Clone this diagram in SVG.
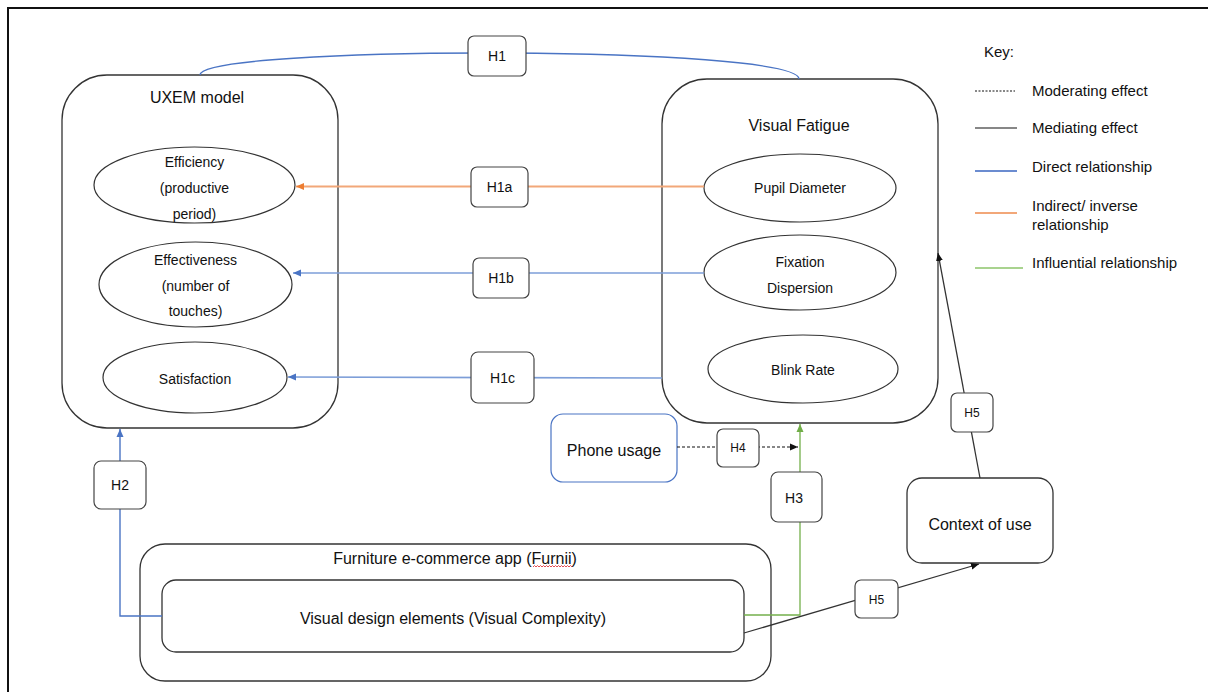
<svg xmlns="http://www.w3.org/2000/svg" width="1208" height="692" viewBox="0 0 1208 692">
<style>
text{font-family:"Liberation Sans",Arial,sans-serif;fill:#111}
.c{text-anchor:middle}
.t16{font-size:16px}
.t15{font-size:15px}
.t14{font-size:14px}
.t12{font-size:12px}
.box{fill:#fff;stroke:#333;stroke-width:1.3}
.ell{fill:#fff;stroke:#333;stroke-width:1.2}
.lbl{fill:#fff;stroke:#444;stroke-width:1.2}
.blue{fill:none;stroke:#4a74c4;stroke-width:1.4}
.lblue{fill:none;stroke:#7d9ed8;stroke-width:1.6}
.orange{fill:none;stroke:#f2a779;stroke-width:1.8}
.green{fill:none;stroke:#74b04c;stroke-width:1.3}
.black{fill:none;stroke:#333;stroke-width:1.3}
.dash{fill:none;stroke:#111;stroke-width:1.2;stroke-dasharray:3 2}
.key{font-family:"Liberation Sans",Arial,sans-serif;font-size:15px}
</style>
<defs>
<marker id="aB" markerUnits="userSpaceOnUse" markerWidth="9" markerHeight="8" refX="8" refY="4" orient="auto"><path d="M0,0.5 L8,4 L0,7.5 z" fill="#4a74c4"/></marker>
<marker id="aO" markerUnits="userSpaceOnUse" markerWidth="9" markerHeight="8" refX="8" refY="4" orient="auto"><path d="M0,0.5 L8,4 L0,7.5 z" fill="#ed7d31"/></marker>
<marker id="aG" markerUnits="userSpaceOnUse" markerWidth="9" markerHeight="8" refX="8" refY="4" orient="auto"><path d="M0,0.5 L8,4 L0,7.5 z" fill="#70ad47"/></marker>
<marker id="aK" markerUnits="userSpaceOnUse" markerWidth="9" markerHeight="8" refX="8" refY="4" orient="auto"><path d="M0,0.5 L8,4 L0,7.5 z" fill="#111"/></marker>
</defs>
<rect x="0" y="0" width="1208" height="692" fill="#fff"/>
<rect x="8" y="8" width="1210" height="700" fill="none" stroke="#111" stroke-width="2"/>

<g id="uxem">
<rect class="box" x="62" y="75" width="276" height="353" rx="45"/>
<text class="c t16" x="197" y="103">UXEM model</text>
</g>
<g id="efficiency">
<ellipse class="ell" cx="194.5" cy="185" rx="100.5" ry="38"/>
<text class="c t14" x="194.5" y="167">Efficiency</text>
<text class="c t14" x="194.5" y="193">(productive</text>
<text class="c t14" x="194.5" y="219">period)</text>
</g>
<g id="effectiveness">
<ellipse class="ell" cx="195.5" cy="284.5" rx="96.5" ry="42.5"/>
<text class="c t14" x="195.5" y="265">Effectiveness</text>
<text class="c t14" x="195.5" y="291">(number of</text>
<text class="c t14" x="195.5" y="316">touches)</text>
</g>
<g id="satisfaction">
<ellipse class="ell" cx="195" cy="377.5" rx="92" ry="35.5"/>
<text class="c t14" x="195" y="384">Satisfaction</text>
</g>

<g id="visual-fatigue">
<rect class="box" x="662" y="79" width="276" height="344" rx="45"/>
<text class="c t16" x="799" y="131">Visual Fatigue</text>
</g>
<g id="pupil">
<ellipse class="ell" cx="800" cy="188" rx="96" ry="34"/>
<text class="c t14" x="800" y="193">Pupil Diameter</text>
</g>
<g id="fixation">
<ellipse class="ell" cx="800" cy="272.5" rx="96" ry="37.5"/>
<text class="c t14" x="800" y="267">Fixation</text>
<text class="c t14" x="800" y="293">Dispersion</text>
</g>
<g id="blink">
<ellipse class="ell" cx="803" cy="369" rx="95" ry="34"/>
<text class="c t14" x="803" y="375">Blink Rate</text>
</g>

<g id="phone">
<rect x="551" y="414" width="126" height="68" rx="12" fill="#fff" stroke="#4a74c4" stroke-width="1.2"/>
<text class="c t16" x="614" y="456">Phone usage</text>
</g>
<g id="context">
<rect class="box" x="907" y="478" width="146" height="85" rx="15"/>
<text class="c t16" x="980" y="530">Context of use</text>
</g>
<g id="furnii">
<rect class="box" x="140" y="544" width="631" height="137" rx="25"/>
<text class="c t16" x="455" y="564">Furniture e-commerce app (Furnii)</text>
<polyline points="533,567 534.5,565.5 536,567 537.5,565.5 539,567 540.5,565.5 542,567 543.5,565.5 545,567 546.5,565.5 548,567 549.5,565.5 551,567 552.5,565.5 554,567 555.5,565.5 557,567 558.5,565.5 560,567 561.5,565.5 563,567 564.5,565.5 566,567 567.5,565.5 569,567 570.5,565.5 572,567" fill="none" stroke="#e0393e" stroke-width="0.9"/>
</g>
<g id="visual-design">
<rect class="box" x="162" y="580" width="582" height="72" rx="14"/>
<text class="c t16" x="453" y="624">Visual design elements (Visual Complexity)</text>
</g>

<g id="connectors">
<path class="blue" d="M200,75 C200,45 799,45 799,79"/>
<line class="orange" x1="704" y1="186.5" x2="296" y2="186.5" marker-end="url(#aO)"/>
<line class="lblue" x1="704" y1="273" x2="293" y2="273" marker-end="url(#aB)"/>
<line class="lblue" x1="662" y1="378" x2="288" y2="377" marker-end="url(#aB)"/>
<path class="blue" d="M162,616 H120 V429" marker-end="url(#aB)"/>
<path class="green" d="M744,615 H800 V424" marker-end="url(#aG)"/>
<line class="dash" x1="677" y1="447" x2="798" y2="447" marker-end="url(#aK)"/>
<line class="black" x1="744" y1="633" x2="979" y2="564" marker-end="url(#aK)"/>
<line class="black" x1="980" y1="478" x2="938" y2="253" marker-end="url(#aK)"/>
</g>

<g id="h1"><rect class="lbl" x="468" y="36" width="58" height="40" rx="6"/><text class="c t14" x="497" y="61">H1</text></g>
<g id="h1a"><rect class="lbl" x="471" y="167" width="57" height="40" rx="6"/><text class="c t14" x="499.5" y="192">H1a</text></g>
<g id="h1b"><rect class="lbl" x="473" y="258" width="56" height="40" rx="6"/><text class="c t14" x="501" y="283">H1b</text></g>
<g id="h1c"><rect class="lbl" x="471" y="352" width="63" height="51" rx="7"/><text class="c t14" x="502.5" y="383">H1c</text></g>
<g id="h2"><rect class="lbl" x="94" y="461" width="52" height="48" rx="7"/><text class="c t14" x="120" y="490">H2</text></g>
<g id="h3"><rect class="lbl" x="771" y="472" width="51" height="50" rx="7"/><text class="c t14" x="794" y="503">H3</text></g>
<g id="h4"><rect class="lbl" x="717" y="429" width="42" height="38" rx="6"/><text class="c t12" x="738" y="452">H4</text></g>
<g id="h5a"><rect class="lbl" x="951" y="393" width="42" height="39" rx="6"/><text class="c t12" x="972" y="417">H5</text></g>
<g id="h5b"><rect class="lbl" x="855" y="580" width="43" height="38" rx="6"/><text class="c t12" x="876.5" y="604">H5</text></g>

<g id="key">
<text class="key" x="984" y="57">Key:</text>
<line x1="975" y1="91" x2="1015" y2="91" stroke="#111" stroke-width="1" stroke-dasharray="2 1.5"/>
<text class="key" x="1032" y="96">Moderating effect</text>
<line x1="975" y1="128" x2="1017" y2="128" stroke="#111" stroke-width="1.2"/>
<text class="key" x="1032" y="133">Mediating effect</text>
<line x1="975" y1="171" x2="1017" y2="171" stroke="#3a66c0" stroke-width="1.4"/>
<text class="key" x="1032" y="172">Direct relationship</text>
<line x1="975" y1="213" x2="1017" y2="213" stroke="#f2a779" stroke-width="1.8"/>
<text class="key" x="1032" y="211">Indirect/ inverse</text>
<text class="key" x="1032" y="230">relationship</text>
<line x1="975" y1="268" x2="1023" y2="268" stroke="#8cc46a" stroke-width="1.6"/>
<text class="key" x="1032" y="268">Influential relationship</text>
</g>
</svg>
